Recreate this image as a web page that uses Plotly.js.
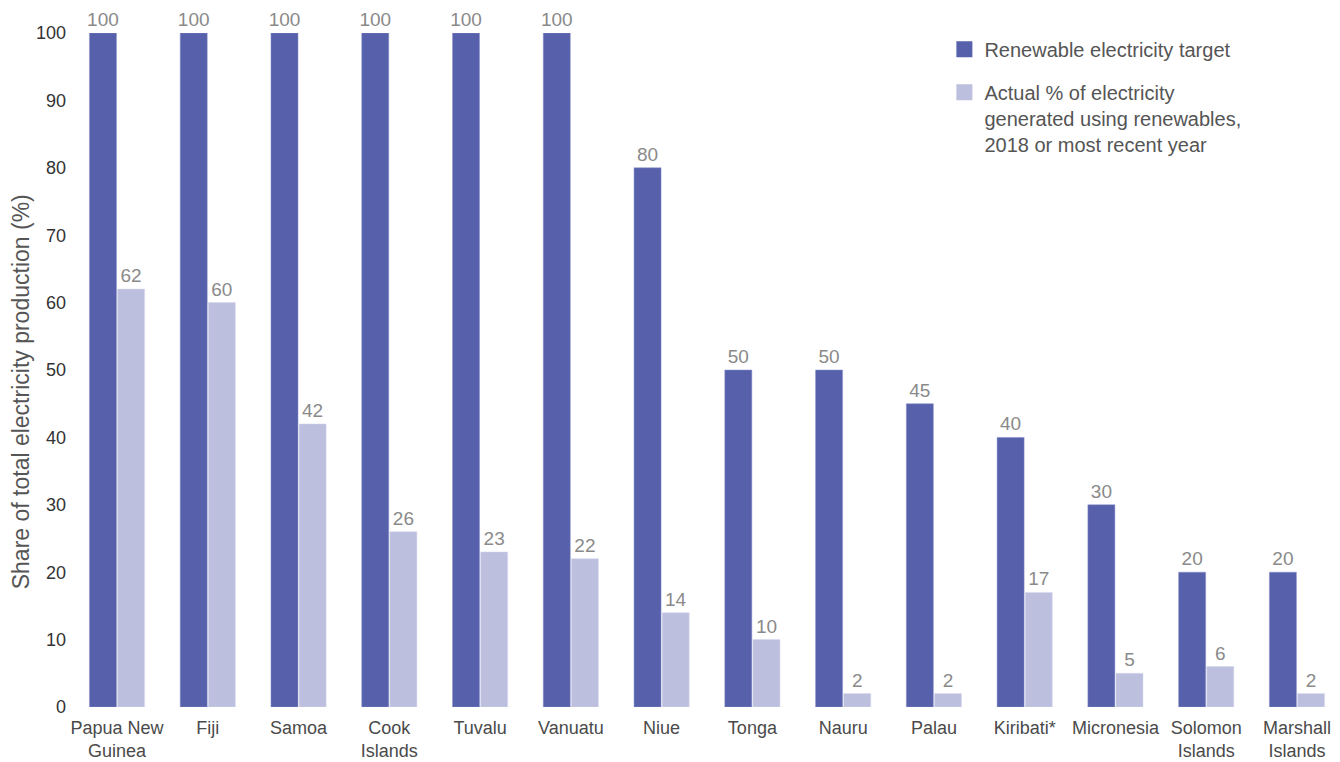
<!DOCTYPE html>
<html>
<head>
<meta charset="utf-8">
<script src="https://cdn.plot.ly/plotly-3.0.1.min.js"></script>
<style>html,body{margin:0;padding:0;background:#fff;}#chart{width:1340px;height:762px;}</style>
</head>
<body>
<div id="chart"></div>
<script>
const categories = ["Papua New<br>Guinea", "Fiji", "Samoa", "Cook<br>Islands", "Tuvalu", "Vanuatu", "Niue", "Tonga", "Nauru", "Palau", "Kiribati*", "Micronesia", "Solomon<br>Islands", "Marshall<br>Islands"];
const targetValues = [100, 100, 100, 100, 100, 100, 80, 50, 50, 45, 40, 30, 20, 20];
const actualValues = [62, 60, 42, 26, 23, 22, 14, 10, 2, 2, 17, 5, 6, 2];
const seriesNames = ["Renewable electricity target", "Actual % of electricity<br>generated using renewables,<br>2018 or most recent year"];
const yTicks = [0, 10, 20, 30, 40, 50, 60, 70, 80, 90, 100];
const yTitle = "Share of total electricity production (%)";

const darkColor = "#5660AB";
const lightColor = "#BCBFDD";
const idx = categories.map((c, i) => i);
const FONT = "Liberation Sans, Arial, sans-serif";

const traces = [
  {
    type: "bar", x: idx, y: targetValues, name: seriesNames[0], showlegend: false,
    marker: {color: darkColor, line: {color: "#8a91c8", width: 0.5}},
    text: targetValues.map(String), textposition: "outside", cliponaxis: false, constraintext: "none",
    textfont: {family: FONT, size: 19, color: "#8a8a8a"}
  },
  {
    type: "bar", x: idx, y: actualValues, name: seriesNames[1], showlegend: false,
    marker: {color: lightColor, line: {color: "#d6d8ee", width: 0.5}},
    text: actualValues.map(String), textposition: "outside", cliponaxis: false, constraintext: "none",
    textfont: {family: FONT, size: 19, color: "#8a8a8a"}
  },
  {
    type: "scatter", mode: "markers", x: [null], y: [null], name: seriesNames[0], legendgroup: "a",
    marker: {symbol: "square", size: 18, color: darkColor}
  },
  {
    type: "scatter", mode: "markers", x: [null], y: [null], name: seriesNames[1], legendgroup: "b",
    marker: {symbol: "square", size: 18, color: lightColor}
  }
];

const layout = {
  width: 1340, height: 762,
  margin: {l: 72, r: 0, t: 33, b: 55},
  paper_bgcolor: "#fff", plot_bgcolor: "#fff",
  font: {family: FONT, color: "#444"},
  barmode: "group", bargap: 0.38, bargroupgap: 0.04,
  xaxis: {
    range: [-0.496, 13.474], tickmode: "array", tickvals: idx, ticktext: categories,
    showgrid: false, zeroline: false, showline: false, ticks: "",
    tickfont: {size: 18, color: "#4a4a4a"}, ticklabelstandoff: 8, fixedrange: true
  },
  yaxis: {
    range: [0, 100], tickmode: "array", tickvals: yTicks,
    showgrid: false, zeroline: false, showline: false, ticks: "",
    tickfont: {size: 18, color: "#333"}, ticklabelstandoff: 5,
    fixedrange: true
  },
  annotations: [{
    text: yTitle, textangle: -90, xref: "paper", yref: "paper",
    x: -0.0402, y: 0.467, xanchor: "center", yanchor: "middle", showarrow: false,
    font: {family: FONT, size: 23, color: "#555"}
  }],
  legend: {
    x: 0.688, y: 1.005, xanchor: "left", yanchor: "top",
    font: {family: FONT, size: 20, color: "#555"}, valign: "top",
    tracegroupgap: 14, itemwidth: 30, bgcolor: "rgba(0,0,0,0)"
  },
  showlegend: true
};

Plotly.newPlot("chart", traces, layout, {displayModeBar: false, staticPlot: true});
</script>
</body>
</html>
